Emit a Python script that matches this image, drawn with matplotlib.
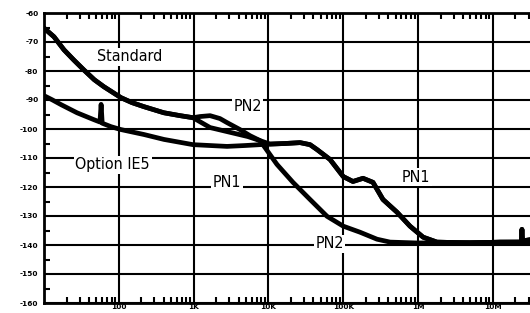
import numpy as np
import matplotlib
matplotlib.use("Agg")
import matplotlib.pyplot as plt
from matplotlib import font_manager as fm
from matplotlib.ticker import FixedLocator, LogLocator, NullFormatter

# Standard reference, 10 Hz .. 1 kHz (dBc/Hz)
std_f = [10, 13.6, 18.5, 25, 34, 47, 63, 107, 150, 217, 400, 660, 980]
std_db = [-65.2, -68.2, -72.7, -76.2, -79.6, -83.0, -85.4, -89.2, -90.9,
          -92.3, -94.4, -95.4, -96.1]

# Option IE5, 10 Hz .. 8 kHz (with the 60 Hz spur)
opt_f = [10, 12.8, 16.9, 27.6, 46.6, 56, 58, 60, 78.7, 107, 217, 402, 982,
         1660, 2800, 4860, 7720]
opt_db = [-88.5, -89.9, -91.6, -94.4, -96.8, -97.6, -91.5, -98.0, -99.2,
          -100.2, -101.9, -103.6, -105.4, -105.7, -106.0, -105.7, -105.4]

# 1 kHz .. 8 kHz branches
hump_f = [1220, 1660, 2250, 2800, 4170, 5670, 7720]
hump_db = [-95.7, -95.4, -96.4, -97.8, -100.2, -102.3, -104.0]
mid_f = [1660, 2800, 5300, 7720]
mid_db = [-99.5, -100.9, -102.6, -104.0]

# PN1 loop, 10 kHz .. 31 MHz
pn1_f = [10500, 16700, 26500, 36000, 44700, 66600, 100e3, 135e3, 184e3,
         250e3, 340e3, 524e3, 781e3, 1.17e6, 1.79e6, 4.95e6, 12.5e6, 19.8e6,
         24e6, 24.5e6, 25e6, 31e6]
pn1_db = [-105.2, -105.0, -104.7, -105.4, -107.1, -110.5, -116.4, -118.1,
          -117.0, -118.4, -124.3, -128.7, -133.5, -137.3, -139.0, -139.3,
          -139.0, -139.0, -139.0, -134.6, -138.6, -138.2]

# PN2 loop, 9 kHz .. 31 MHz
pn2_f = [9000, 13000, 21300, 36000, 60700, 100e3, 168e3, 283e3, 423e3,
         970e3, 3.6e6, 10e6, 31e6]
pn2_db = [-106.4, -112.2, -118.4, -124.3, -130.1, -133.5, -135.6, -138.0,
          -139.0, -139.3, -139.2, -139.1, -139.0]

xticks = [100, 1e3, 1e4, 1e5, 1e6, 1e7]
xlabels = ["100", "1K", "10K", "100K", "1M", "10M"]
yticks = np.arange(-160, -59, 10)

labels = [("Standard", 141, -75.1), ("PN2", 5300, -92.4),
          ("Option IE5", 83, -112.3), ("PN1", 2800, -118.6),
          ("PN1", 935e3, -116.6), ("PN2", 66e3, -139.6)]

# narrow face if the system has one
label_font = fm.FontProperties(family="DejaVu Sans", stretch="condensed")
narrow = "Condensed" in fm.findfont(label_font)
label_size = 11.5 if narrow else 10.5

fig = plt.figure(figsize=(5.30, 3.13), dpi=100)
W, H = 530, 313
left, top, bottom = 44, 13, 303
ax = fig.add_axes([left / W, (H - bottom) / H, (W - left) / W, (bottom - top) / H])

traces = [
    (std_f + hump_f + pn2_f, std_db + hump_db + pn2_db),
    (std_f + mid_f + pn1_f, std_db + mid_db + pn1_db),
    (opt_f + pn1_f, opt_db + pn1_db),
]
for f, db in traces:
    ax.plot(f, db, color="black", lw=3.4, solid_joinstyle="round", zorder=3)

ax.set_xscale("log")
ax.set_xlim(10, 10 ** 7.497)
ax.set_ylim(-160, -60)

ax.xaxis.set_major_locator(FixedLocator(xticks))
ax.set_xticklabels(xlabels)
ax.xaxis.set_minor_locator(LogLocator(base=10, subs=np.arange(2, 10)))
ax.xaxis.set_minor_formatter(NullFormatter())
ax.set_yticks(yticks)
ax.set_yticklabels([str(v) for v in yticks])
ax.yaxis.set_minor_locator(FixedLocator(np.arange(-155, -60, 10)))

ax.grid(True, which="major", color="black", lw=1.5)
ax.tick_params(which="major", length=0, pad=4, labelsize=5.3)
ax.tick_params(axis="x", which="major", pad=0.5)
ax.tick_params(which="minor", direction="in", length=4, width=1.5,
               top=True, bottom=True, left=True)
for lab in ax.get_xticklabels() + ax.get_yticklabels():
    lab.set_fontweight("bold")

for side in ["left", "top", "bottom"]:
    ax.spines[side].set_linewidth(2.0)
ax.spines["right"].set_visible(False)

for text, x, y in labels:
    ax.text(x, y, text, ha="center", va="center", fontsize=label_size,
            family="DejaVu Sans",
            stretch="condensed" if narrow else "normal", zorder=4,
            bbox=dict(facecolor="white", edgecolor="none", pad=1.0))

fig.savefig("out.png", dpi=100)
